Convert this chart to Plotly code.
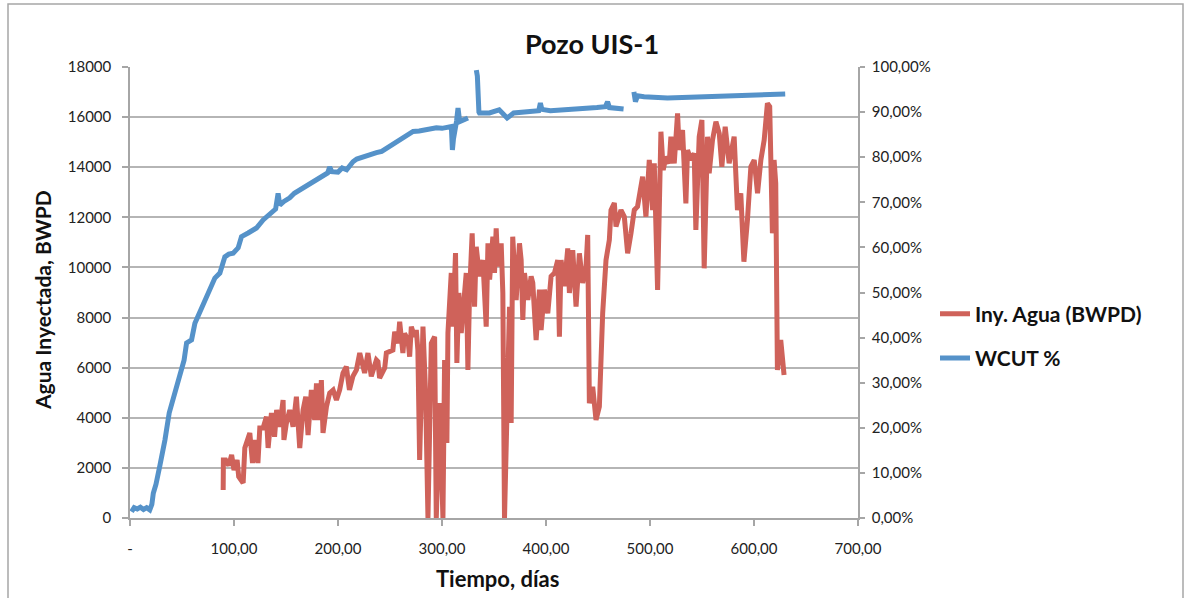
import plotly.graph_objects as go

# Inyección de agua (BWPD) vs tiempo (días)
dias_iny = [
    89.6, 89.8, 92, 95, 97.7, 100, 103, 104.5, 108.8, 110.4, 115.2, 117.8, 120, 123, 124.8,
    128, 131.2, 132.8, 136, 139, 141, 144, 147.2, 148, 150.4, 153.6, 156.8, 160, 163.2,
    166.4, 169, 171.2, 174.4, 177.6, 179.3, 182.4, 184, 185.6, 188.9, 192, 195.3, 198.5,
    201.6, 204.8, 208, 211, 214.3, 217.7, 220.9, 225.6, 228.8, 232, 236.9, 238.4, 240,
    244.9, 246.5, 252.8, 254.5, 257.6, 259.3, 262.4, 264, 267.3, 268.9, 270.5, 273.7,
    275.3, 276.8, 278.5, 281.7, 284.2, 286.5, 289.7, 292.9, 294.5, 297.7, 300.9, 302.5,
    304.7, 305.7, 308.9, 310.5, 313, 314.3, 316.2, 318.5, 321.7, 323.3, 324.9, 326.5,
    329, 331.3, 332.9, 336, 339.3, 341, 342.5, 344.2, 345.8, 348.9, 350.5, 352.1, 353.7,
    356.9, 358.5, 360.1, 362.4, 364.9, 366.5, 368, 371.3, 374.5, 376.1, 377.7, 379.3,
    382.5, 385.7, 387.3, 390.5, 393.7, 395.3, 398.5, 401.7, 404.9, 408.1, 411.3, 412.9,
    414.5, 417.7, 420.9, 422.5, 425.7, 428.9, 432.1, 435.3, 438.5, 440.1, 441.7, 444.9,
    448.1, 451.3, 454.5, 457.7, 460.9, 462.5, 465.7, 467.3, 472.1, 475.3, 478.5, 481.7,
    484.9, 488, 491.3, 492.9, 496.1, 499.3, 502.5, 504.1, 507.3, 510.5, 512.7, 515.3,
    518.5, 520.1, 523.3, 526.5, 528.1, 531.3, 534.5, 536.1, 539.3, 542.5, 544.1, 547.3,
    549.9, 552.1, 555.3, 556.9, 560.1, 563.4, 566.6, 569.1, 572.3, 576.1, 580.9, 584.1,
    587.3, 590.3, 593.7, 597, 600.2, 603.4, 606.6, 609.8, 612.9, 615.1, 617.7, 619.3,
    620.9, 622.5, 625.7, 628.9,
]
iny_agua = [
    1117, 2315, 2315, 2100, 2514, 1916, 2315, 1650, 1397, 2794, 3392, 2195, 3113, 2195, 3592,
    3592, 4043, 2794, 4191, 3245, 4310, 3645, 4709, 3113, 3791, 4310, 3645, 4841, 2794,
    4310, 4841, 3313, 5109, 3911, 5375, 3911, 5508, 3392, 4443, 4989, 5109, 4709,
    5109, 5787, 6039, 5109, 5654, 5907, 6585, 5787, 6585, 5654, 6306, 6240, 5587,
    5987, 6585, 6705, 7436, 6972, 7835, 6585, 7370, 7100, 6438, 7636, 7236,
    7503, 6705, 2315, 7636, 4989, 0, 6972, 7236, 0, 4590, 0, 6306,
    2993, 7383, 9778, 7636, 10576, 6186, 8980, 7383, 9248, 9778, 5907, 8980,
    11362, 8433, 10828, 9645, 10297, 9115, 7636, 10961, 9513, 11227, 9778, 11562, 10043,
    10961, 8980, 0, 4989, 8433, 3791, 11227, 8700, 10961, 10297, 7903, 9778,
    8700, 9645, 9380, 7104, 9115, 7503, 9115, 8168, 9645, 9778, 10297, 7236,
    10297, 9248, 10762, 8980, 10695, 8433, 10562, 9380, 10043, 11295, 4577, 5243,
    3911, 4443, 8181, 10297, 11095, 12292, 12572, 11628, 12292, 12026, 10562, 11362,
    12292, 12425, 13091, 13622, 12026, 14288, 12292, 14155, 9100, 15418, 13888, 14421,
    14155, 15218, 14155, 16151, 14687, 15485, 12559, 14687, 14288, 14554, 11494, 15218,
    15884, 9965, 15218, 13755, 15085, 15818, 15352, 14021, 15618, 14155, 15218, 12292,
    12958, 10230, 11894, 14021, 14288, 12958, 14288, 15086, 16551, 16418, 11362, 14288,
    13356, 5907, 7104, 5707,
]

# Corte de agua (%) vs tiempo (días); None = periodo sin medición
dias_wcut = [
    1.5, 4, 7, 10, 13, 16, 19, 21, 22.4, 25, 28.8, 31, 33.6, 37.7, 41, 44.8, 49.6, 52,
    54.4, 59.2, 62.4, 65, 68.8, 75.2, 81.6, 86.4, 91.2, 95, 99.2, 104, 107.2, 113.6,
    121.6, 128, 134.4, 140, 142.4, 144, 148, 153.6, 158, 163.2, 168, 172.8, 178, 182.4,
    186, 190, 192, 194, 200, 204, 208.3, 214.4, 218, 224, 230, 237, 242, 246.6, 250, 255,
    262.6, 268, 272.2, 278, 283.4, 288, 294.6, 300, 305, 309, 310, 311,
    314, 315.4, 317, 320, 325, 329, 333, 334, 335.5, 336, 345.6, 355, 362.6, 368.9,
    381.9, 393, 394.6, 396, 404.2, 423.4, 449, 457, 459.2, 461, 474.6, 480, 484.5, 486,
    488, 494.3, 516.8, 548.8, 580.5, 612.5, 630,
]
wcut = [
    1.4, 2.3, 2.0, 2.4, 1.9, 2.3, 1.8, 3.0, 5.5, 7.5, 11.7, 14.0, 17.3, 23.3, 26.0, 29.1,
    32.8, 35.0, 38.8, 39.5, 43.2, 44.5, 46.6, 49.9, 53.2, 54.3, 57.9, 58.5, 58.7, 59.9,
    62.4, 63.2, 64.3, 66.1, 67.2, 68.5, 72.0, 69.4, 70.2, 71.0, 72.0, 72.7, 73.4, 74.3,
    75.0, 75.4, 75.8, 76.5, 77.8, 76.8, 76.7, 77.6, 77.2, 79.0, 79.6, 80.1, 80.4, 81.0,
    81.3, 82.0, 82.4, 83.0, 84.3, 85.2, 85.7, 85.8, 86.0, 86.1, 86.5, 86.4, 86.6, 86.8,
    81.6, 84.0, 88.0, 90.9, 87.9, 88.3, 88.7, None, 99.3, 98.0, 90.0, 89.8, 89.8, 90.5,
    88.7, 89.8, 90.1, 90.3, 92.0, 90.6, 90.3, 90.5, 91.0, 91.2, 92.3, 91.0, 90.7, None,
    94.5, 92.3, 93.6, 93.4, 93.1, 93.4, 93.6, 94.0, 94.0,
]

x_ticks = [0, 100, 200, 300, 400, 500, 600, 700]
x_labels = ["-", "100,00", "200,00", "300,00", "400,00", "500,00", "600,00", "700,00"]
y_ticks = list(range(0, 18001, 2000))
y_labels = [str(v) for v in y_ticks]
y2_ticks = list(range(0, 101, 10))
y2_labels = [f"{v},00%" for v in y2_ticks]

ROJO = "#CF625A"
AZUL = "#5592C9"
FONT = "Lato, 'Open Sans', sans-serif"
EJE = "#A6A6A6"

fig = go.Figure()
fig.add_trace(go.Scatter(
    x=dias_iny, y=iny_agua, name="<b>Iny. Agua (BWPD)</b>", mode="lines",
    line=dict(color=ROJO, width=5), legendgroup="a",
))
fig.add_trace(go.Scatter(
    x=dias_wcut, y=wcut, name="<b>WCUT %</b>", mode="lines", yaxis="y2",
    line=dict(color=AZUL, width=5), connectgaps=False, legendgroup="b",
))

fig.update_layout(
    width=1184, height=598, autosize=False,
    margin=dict(l=130, r=326, t=67, b=80),
    paper_bgcolor="white", plot_bgcolor="white",
    font=dict(family=FONT, color="#222222", size=15),
    title=dict(text="<b>Pozo UIS-1</b>", x=0.5, xref="container", xanchor="center",
               y=1 - 45 / 598, yref="container", yanchor="middle",
               font=dict(size=27, color="#111111")),
    xaxis=dict(range=[0, 700], tickvals=x_ticks, ticktext=x_labels,
               showgrid=False, zeroline=False, showline=True, linecolor=EJE, linewidth=1.5,
               ticks="outside", ticklen=6, tickcolor=EJE, tickwidth=1.5,
               ticklabelstandoff=10, tickfont=dict(size=15)),
    yaxis=dict(range=[0, 18000], tickvals=y_ticks, ticktext=y_labels,
               showgrid=True, gridcolor="#B5B5B5", gridwidth=1.5, zeroline=False,
               showline=True, linecolor=EJE, linewidth=1.5,
               ticks="outside", ticklen=6, tickcolor=EJE, tickwidth=1.5,
               ticklabelstandoff=8, tickfont=dict(size=15)),
    yaxis2=dict(range=[0, 100], tickvals=y2_ticks, ticktext=y2_labels, overlaying="y",
                side="right", showgrid=False, zeroline=False,
                showline=True, linecolor=EJE, linewidth=1.5,
                ticks="outside", ticklen=5, tickcolor=EJE, tickwidth=1.5,
                ticklabelstandoff=4, tickfont=dict(size=15)),
    legend=dict(x=(935 - 130) / 728, xanchor="left", y=(518 - 336) / 451, yanchor="middle",
                font=dict(size=21, color="#111111"), traceorder="grouped",
                tracegroupgap=14, bgcolor="rgba(0,0,0,0)", itemwidth=30),
    showlegend=True,
)

# Títulos de ejes
fig.add_annotation(text="<b>Agua Inyectada, BWPD</b>", xref="paper", yref="paper",
                   x=(42 - 130) / 728, y=(518 - 300) / 451, textangle=-90,
                   xanchor="center", yanchor="middle",
                   showarrow=False, font=dict(size=21, color="#111111"))
fig.add_annotation(text="<b>Tiempo, días</b>", xref="paper", yref="paper",
                   x=(497 - 130) / 728, y=(518 - 578) / 451,
                   xanchor="center", yanchor="middle",
                   showarrow=False, font=dict(size=22, color="#111111"))

# Marco del gráfico
fig.add_shape(type="rect", xref="paper", yref="paper",
              x0=(8 - 130) / 728, x1=(1183 - 130) / 728,
              y0=(518 - 604) / 451, y1=(518 - 4) / 451,
              line=dict(color="#A6A6A6", width=1.5), fillcolor="rgba(0,0,0,0)", layer="below")

fig.write_html("out.html")
